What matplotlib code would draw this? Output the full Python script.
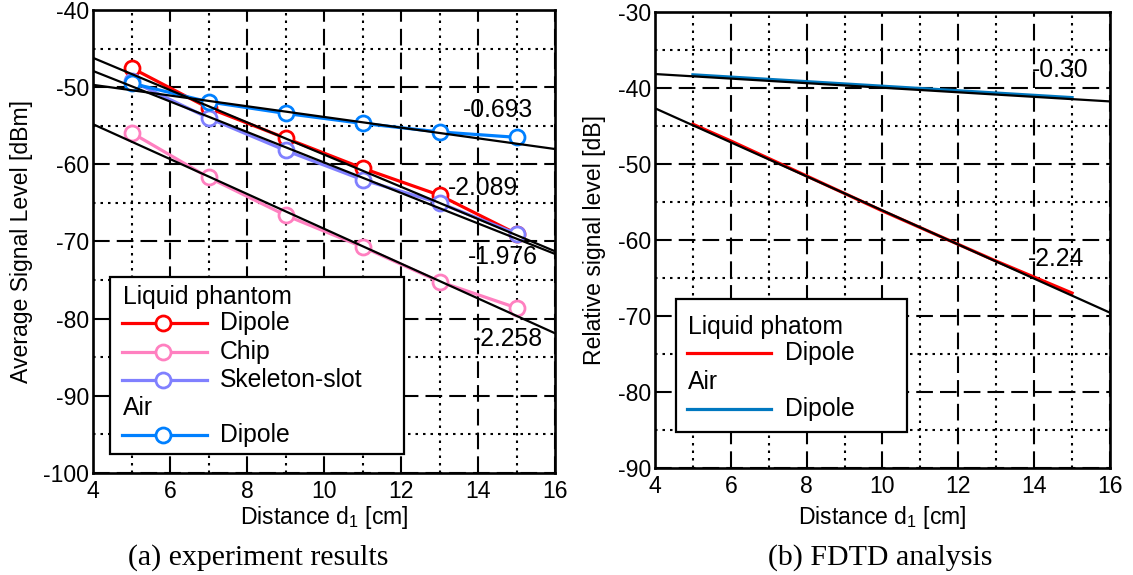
import matplotlib
matplotlib.use("Agg")
import matplotlib.pyplot as plt
from matplotlib.lines import Line2D
from matplotlib.patches import Rectangle

plt.rcParams['font.family'] = ['Liberation Sans', 'DejaVu Sans']
plt.rcParams['mathtext.fontset'] = 'custom'
plt.rcParams['mathtext.rm'] = 'Liberation Sans'
plt.rcParams['axes.unicode_minus'] = False

# ---- (a) measured signal level ----
dist = [5, 7, 9, 11, 13, 15]
liq_dipole = [-47.5, -52.7, -56.6, -60.5, -64.0, -69.0]
liq_chip = [-55.9, -61.7, -66.6, -70.7, -75.2, -78.6]
liq_skeleton = [-49.2, -54.0, -58.2, -62.0, -65.0, -69.0]
air_dipole = [-49.5, -51.9, -53.4, -54.7, -55.8, -56.5]

# regression lines: slope [dB/cm] and level at d1 = 4 cm
fit_x = [4, 16]
slope_a = {'liq_dipole': -2.089, 'liq_chip': -2.258, 'liq_skeleton': -1.976, 'air_dipole': -0.693}
start_a = {'liq_dipole': -46.2, 'liq_chip': -54.8, 'liq_skeleton': -47.9, 'air_dipole': -49.7}
label_pos_a = {'liq_dipole': (13.22, -63.1), 'liq_chip': (13.87, -82.7),
               'liq_skeleton': (13.74, -72.0), 'air_dipole': (13.6, -52.95)}

# ---- (b) FDTD ----
dist_fdtd = [5, 6, 7, 8, 9, 10, 11, 12, 13, 14, 15]
fdtd_liq = [-44.8, -47.0, -49.3, -51.6, -53.9, -56.2, -58.4, -60.6, -62.8, -64.9, -67.0]
fdtd_air = [-38.3, -38.6, -38.9, -39.2, -39.5, -39.8, -40.1, -40.4, -40.7, -41.0, -41.3]
slope_b = {'liq': -2.24, 'air': -0.30}
start_b = {'liq': -42.7, 'air': -38.2}
label_pos_b = {'liq': (13.84, -62.5), 'air': (13.95, -37.7)}

RED = '#ff0000'
PINK = '#ff80c0'
PURPLE = '#8080ff'
BLUE = '#0080ff'
BLUE_B = '#0078c0'

TICK_FS = 16.6
TXT_FS = 17.8

fig = plt.figure(figsize=(11.33, 5.75), dpi=100)
ax1 = fig.add_axes([0.0821, 0.1774, 0.4078, 0.8052])
ax2 = fig.add_axes([0.5781, 0.1861, 0.4016, 0.7936])

major_dash = (0, (8.0, 3.4))
minor_dot = (0, (1.2, 2.4))


def style_axes(ax, ylim, ylabel, ylabel_x, xlabel_y):
    ax.set_xlim(4, 16)
    ax.set_ylim(*ylim)
    ax.set_xticks(range(4, 17, 2))
    ax.set_xticks(range(5, 16, 2), minor=True)
    ax.set_yticks(range(ylim[0], ylim[1] + 1, 10))
    ax.set_yticks(range(ylim[0] + 5, ylim[1], 10), minor=True)
    ax.grid(which='major', color='black', linestyle=major_dash, linewidth=1.5)
    ax.grid(which='minor', color='black', linestyle=minor_dot, linewidth=1.5)
    ax.set_axisbelow(True)
    ax.tick_params(which='both', direction='in', labelsize=TICK_FS, color='black',
                   length=0)
    ax.tick_params(axis='y', pad=3)
    ax.tick_params(axis='x', pad=5)
    for s in ax.spines.values():
        s.set_linewidth(1.9)
    ax.set_ylabel(ylabel, fontsize=TICK_FS)
    ax.yaxis.set_label_coords(ylabel_x, 0.5)
    ax.set_xlabel('Distance d$_\\mathregular{1}$ [cm]', fontsize=TICK_FS)
    ax.xaxis.set_label_coords(0.5, xlabel_y)
    ax.xaxis.label.set_va('center')
    ax.yaxis.label.set_va('center')


style_axes(ax1, (-100, -40), 'Average Signal Level [dBm]', -0.154, -0.097)
style_axes(ax2, (-90, -30), 'Relative signal level [dB]', -0.132, -0.109)

# measured curves
series_a = [('liq_dipole', liq_dipole, RED),
            ('liq_chip', liq_chip, PINK),
            ('liq_skeleton', liq_skeleton, PURPLE),
            ('air_dipole', air_dipole, BLUE)]
for key, vals, col in series_a:
    ax1.plot(dist, vals, color=col, lw=2.3, marker='o', ms=10.8,
             mfc='white', mec=col, mew=2.0, zorder=3)
for key, vals, col in series_a:
    y0 = start_a[key]
    y1 = y0 + slope_a[key] * (fit_x[1] - fit_x[0])
    ax1.plot(fit_x, [y0, y1], color='black', lw=1.6, zorder=4)
    tx, ty = label_pos_a[key]
    ax1.text(tx, ty, f'{slope_a[key]:.3f}', fontsize=TXT_FS, ha='left', va='center',
             zorder=6)

# FDTD curves
ax2.plot(dist_fdtd, fdtd_liq, color=RED, lw=2.3, zorder=3)
ax2.plot(dist_fdtd, fdtd_air, color=BLUE_B, lw=2.3, zorder=3)
for key in ['liq', 'air']:
    y0 = start_b[key]
    y1 = y0 + slope_b[key] * (fit_x[1] - fit_x[0])
    ax2.plot(fit_x, [y0, y1], color='black', lw=1.6, zorder=4)
    tx, ty = label_pos_b[key]
    ax2.text(tx, ty, f'{slope_b[key]:.2f}', fontsize=TXT_FS, ha='left', va='center',
             zorder=6)

# grouped legend, panel (a)
T1 = ax1.transAxes
ax1.add_patch(Rectangle((0.037, 0.041), 0.636, 0.382, transform=T1,
                        facecolor='white', edgecolor='black', lw=1.6, zorder=7))
ax1.text(0.064, 0.381, 'Liquid phantom', transform=T1, fontsize=TXT_FS,
         ha='left', va='center', zorder=8)
ax1.text(0.064, 0.140, 'Air', transform=T1, fontsize=TXT_FS,
         ha='left', va='center', zorder=8)
legend_rows_a = [(0.324, RED, 'Dipole'), (0.262, PINK, 'Chip'),
                 (0.201, PURPLE, 'Skeleton-slot'), (0.082, BLUE, 'Dipole')]
for ry, col, name in legend_rows_a:
    ax1.add_line(Line2D([0.062, 0.246], [ry, ry], transform=T1, color=col, lw=2.3,
                        zorder=8))
    ax1.add_line(Line2D([0.152], [ry], transform=T1, color=col, marker='o', ms=10.8,
                        mfc='white', mec=col, mew=2.0, zorder=9))
    ax1.text(0.275, ry, name, transform=T1, fontsize=TXT_FS, ha='left', va='center',
             zorder=8)

# grouped legend, panel (b)
T2 = ax2.transAxes
ax2.add_patch(Rectangle((0.046, 0.079), 0.508, 0.291, transform=T2,
                        facecolor='white', edgecolor='black', lw=1.6, zorder=7))
ax2.text(0.0725, 0.310, 'Liquid phatom', transform=T2, fontsize=TXT_FS,
         ha='left', va='center', zorder=8)
ax2.text(0.0725, 0.189, 'Air', transform=T2, fontsize=TXT_FS,
         ha='left', va='center', zorder=8)
for ry, col in [(0.251, RED), (0.129, BLUE_B)]:
    ax2.add_line(Line2D([0.070, 0.255], [ry, ry], transform=T2, color=col, lw=2.3,
                        zorder=8))
    ax2.text(0.286, ry, 'Dipole', transform=T2, fontsize=TXT_FS, ha='left',
             va='center', zorder=8)

# panel captions
fig.text(258 / 1133, 1 - 558 / 575, '(a) experiment results', fontsize=21.5,
         family=['Liberation Serif', 'DejaVu Serif'], ha='center', va='center')
fig.text(880 / 1133, 1 - 558 / 575, '(b) FDTD analysis', fontsize=21.5,
         family=['Liberation Serif', 'DejaVu Serif'], ha='center', va='center')

fig.savefig('out.png', dpi=100)
